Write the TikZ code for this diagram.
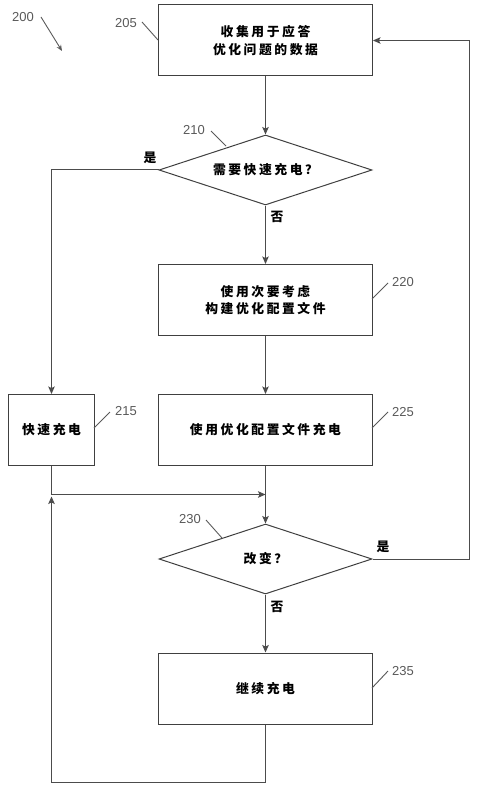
\documentclass[tikz,border=0pt]{standalone}
\usepackage{fontspec}
\setsansfont{Liberation Sans}
\newfontfamily\cjkfont[LetterSpace=20]{Noto Sans CJK SC}
\usetikzlibrary{shapes.geometric,arrows.meta}

\tikzset{
  procbox/.style={draw=\flowBorderColor, line width=\flowBorderWidth, minimum width=214pt, minimum height=71pt,
    inner sep=0pt, align=center, font=\cjkfont\bfseries\fontsize{12.8}{17.5}\selectfont},
  decide/.style={draw=\flowBorderColor, line width=\flowBorderWidth, diamond, aspect=3.1, inner sep=0pt,
    minimum width=213pt, minimum height=70pt, font=\cjkfont\bfseries\fontsize{12.8}{17.5}\selectfont},
  answer/.style={inner sep=0pt, font=\cjkfont\bfseries\fontsize{12.8}{14}\selectfont},
  refnum/.style={inner sep=0pt, text=\flowRefColor, font=\sffamily\fontsize{13}{15}\selectfont},
  flow/.style={draw=\flowLineColor, line width=\flowLineWidth, -{Stealth[length=7.5pt,width=6.5pt,inset=1.5pt]}},
  leader/.style={draw=\flowRefColor, line width=0.9pt}
}

\begin{document}
\begin{tikzpicture}[x=1pt, y=-1pt]
% flow chart 200, one unit is one pixel of the page, y grows downwards
\providecommand{\flowLineColor}{black!70}
\providecommand{\flowBorderColor}{black!75}
\providecommand{\flowRefColor}{black!65}
\providecommand{\flowLineWidth}{1pt}
\providecommand{\flowBorderWidth}{1pt}
\useasboundingbox (0,0) rectangle (477,791);
  % Steps
  \node[procbox] (collect) at (265.5,40.5) {收集用于应答\\优化问题的数据};
  \node[decide] (fastq) at (265.5,170) {需要快速充电？};
  \node[procbox] (build) at (265.5,300) {使用次要考虑\\构建优化配置文件};
  \node[procbox, minimum width=86pt] (fast) at (51.5,430) {快速充电};
  \node[procbox] (optcharge) at (265.5,430) {使用优化配置文件充电};
  \node[decide] (changeq) at (265.5,559) {改变？};
  \node[procbox] (cont) at (265.5,688.5) {继续充电};
  % Junction points
  \coordinate (merge) at (265.5,494.5);
  \coordinate (loopin) at (51.5,496.5);
  % Connectors
  \draw[flow] (collect) -- (fastq);
  \draw[flow] (fastq.west) -| (fast.north);
  \draw[flow] (fastq) -- (build);
  \draw[flow] (build) -- (optcharge);
  \draw[flow] (optcharge) -- (changeq);
  \draw[flow] (fast.south) |- (merge);
  \draw[flow] (changeq.east) -- ++(97,0) |- (collect.east);
  \draw[flow] (changeq) -- (cont);
  \draw[flow] (cont.south) -- ++(0,58) -| (loopin);
  % Answers
  \node[answer] (yes1) at (150,158) {是};
  \node[answer] (no1) at (277,217) {否};
  \node[answer] (yes2) at (383,547) {是};
  \node[answer] (no2) at (277,607) {否};
  % Reference numbers
  \node[refnum] (n200) at (23,17) {200};
  \node[refnum] (n205) at (126,23) {205};
  \node[refnum] (n210) at (194,130) {210};
  \node[refnum] (n215) at (126,411) {215};
  \node[refnum] (n220) at (403,282) {220};
  \node[refnum] (n225) at (403,412) {225};
  \node[refnum] (n230) at (190,519) {230};
  \node[refnum] (n235) at (403,671) {235};
  \draw[leader, -{Stealth[length=6pt,width=5pt]}] (41,17) -- (62,51);
  \draw[leader] (142,22) -- (158,40);
  \draw[leader] (211,131) -- (226,146);
  \draw[leader] (94,428) -- (110,412);
  \draw[leader] (372,299) -- (388,283);
  \draw[leader] (372,428) -- (388,412);
  \draw[leader] (206,520) -- (222,538);
  \draw[leader] (372,688) -- (388,671);
\end{tikzpicture}
\end{document}
